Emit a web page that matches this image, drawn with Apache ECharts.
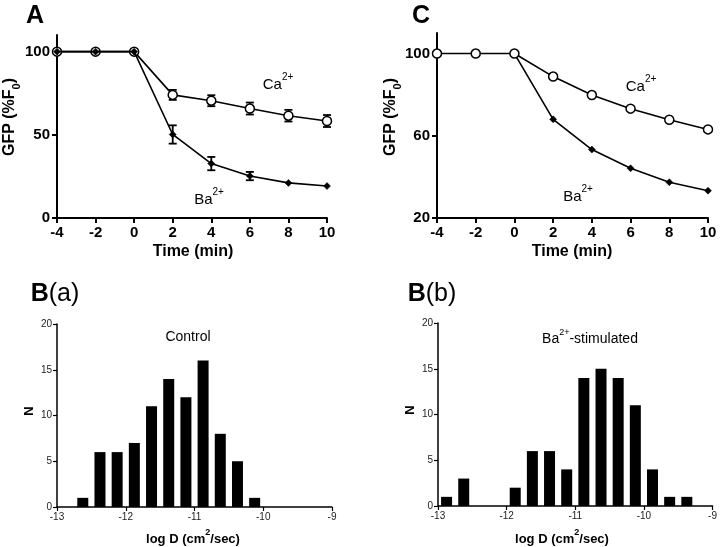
<!DOCTYPE html>
<html><head><meta charset="utf-8">
<script src="https://cdn.jsdelivr.net/npm/echarts@6/dist/echarts.min.js"></script>
<style>html,body{margin:0;padding:0;background:#fff}#c{width:720px;height:547px}</style>
</head><body><div id="c"></div>
<script>
// Panel A
var timeA = [-4, -2, 0, 2, 4, 6, 8, 10];
var caA = [100, 100, 100, 74, 70.5, 65.8, 61.5, 58.3];
var caErrA = [0, 0, 0, 3, 3.3, 3.6, 3.5, 3.6];
var baA = [100, 100, 100, 50.2, 32.7, 25.2, 21.1, 19.2];
var baErrA = [0, 0, 0, 5.5, 4, 2.5, 0, 0];
// Panel C
var timeC = [-4, -2, 0, 2, 4, 6, 8, 10];
var caC = [100, 100, 100, 88.8, 79.8, 73.2, 67.8, 63.1];
var baC = [null, null, 100, 68, 53.3, 44.2, 37.4, 33.3];
// Panel B(a) control histogram
var binsBa = [-12.625, -12.375, -12.125, -11.875, -11.625, -11.375, -11.125, -10.875, -10.625, -10.375, -10.125];
var countsBa = [1, 6, 6, 7, 11, 14, 12, 16, 8, 5, 1];
// Panel B(b) Ba2+-stimulated histogram
var binsBb = [-12.875, -12.625, -11.875, -11.625, -11.375, -11.125, -10.875, -10.625, -10.375, -10.125, -9.875, -9.625, -9.375];
var countsBb = [1, 3, 2, 6, 6, 4, 14, 15, 14, 11, 4, 1, 1];

var FF = 'Liberation Sans, Arial, sans-serif';
function pairs(xs, ys){ return xs.map(function(x,i){ return [x, ys[i]]; }); }
function errData(xs, ys, es){ var out=[]; xs.forEach(function(x,i){ if(es[i]>0) out.push([x, ys[i]-es[i], ys[i]+es[i]]); }); return out; }

var chart = echarts.init(document.getElementById('c'), null, {renderer:'canvas'});

function topAxisX(idx){
  return {gridIndex: idx, type:'value', min:-4, max:10, interval:2,
    axisLine:{onZero:false, lineStyle:{color:'#000', width:2}},
    axisTick:{show:true, length:5, lineStyle:{color:'#000', width:2}},
    axisLabel:{color:'#000', fontSize:15, fontWeight:'bold', fontFamily:FF, margin:7},
    splitLine:{show:false}};
}
function topAxisY(idx, min, interval){
  return {gridIndex: idx, type:'value', min:min, max:110, interval:interval,
    axisLine:{show:true, onZero:false, lineStyle:{color:'#000', width:2}},
    axisTick:{show:true, length:5, lineStyle:{color:'#000', width:2}},
    axisLabel:{color:'#000', fontSize:15, fontWeight:'bold', fontFamily:FF, margin:7, showMaxLabel:false,
      formatter:function(v){ return (v===110)?'':v; }},
    splitLine:{show:false}};
}
function botAxisX(idx){
  return {gridIndex: idx, type:'value', min:-13, max:-9, interval:1,
    axisLine:{onZero:false, lineStyle:{color:'#000', width:1.5}},
    axisTick:{show:true, length:4, lineStyle:{color:'#000', width:1.2}},
    axisLabel:{color:'#222', fontSize:10, fontFamily:FF, margin:5},
    splitLine:{show:false}};
}
function botAxisY(idx){
  return {gridIndex: idx, type:'value', min:0, max:20, interval:5,
    axisLine:{show:true, onZero:false, lineStyle:{color:'#000', width:1.5}},
    axisTick:{show:true, length:4, lineStyle:{color:'#000', width:1.2}},
    axisLabel:{color:'#222', fontSize:10, fontFamily:FF, margin:5},
    splitLine:{show:false}};
}
function errSeries(axisIdx, data){
  return {type:'custom', xAxisIndex:axisIdx, yAxisIndex:axisIdx, z:3,
    data:data,
    renderItem:function(params, api){
      var lo = api.coord([api.value(0), api.value(1)]);
      var hi = api.coord([api.value(0), api.value(2)]);
      var w = 4;
      var st = {stroke:'#000', lineWidth:1.8};
      return {type:'group', children:[
        {type:'line', shape:{x1:lo[0], y1:lo[1], x2:hi[0], y2:hi[1]}, style:st},
        {type:'line', shape:{x1:lo[0]-w, y1:lo[1], x2:lo[0]+w, y2:lo[1]}, style:st},
        {type:'line', shape:{x1:hi[0]-w, y1:hi[1], x2:hi[0]+w, y2:hi[1]}, style:st}
      ]};
    }};
}
function lineSeries(axisIdx, data, open, z){
  return {type:'line', xAxisIndex:axisIdx, yAxisIndex:axisIdx, data:data, z:z,
    symbol: open ? 'circle' : 'diamond', symbolSize: open ? 9 : 7, showSymbol:true,
    lineStyle:{color:'#000', width:1.6},
    itemStyle:{color: open ? '#fff' : '#000', borderColor:'#000', borderWidth: open ? 1.5 : 0.5},
    emphasis:{disabled:true}, animation:false};
}
function barSeries(axisIdx, data){
  return {type:'bar', xAxisIndex:axisIdx, yAxisIndex:axisIdx, data:data, barWidth:11,
    itemStyle:{color:'#000'}, emphasis:{disabled:true}, animation:false};
}
function txt(x, y, text, rich, extra){
  var o = {type:'text', x:x, y:y, style:{text:text, rich:rich||{}, fill:'#000', align:'center', verticalAlign:'middle', fontFamily:FF}};
  if(extra){ for(var k in extra){ if(k==='style'){ for(var s in extra.style) o.style[s]=extra.style[s]; } else o[k]=extra[k]; } }
  return o;
}
var ionRich = {n:{fontSize:15, fontFamily:FF, fill:'#000', lineHeight:20, verticalAlign:'bottom'}, s:{fontSize:10, fontFamily:FF, fill:'#000', verticalAlign:'top', lineHeight:20}};
var gfpRich = {b:{fontSize:16, fontWeight:'bold', fontFamily:FF, fill:'#000', lineHeight:20, verticalAlign:'top'}, sub:{fontSize:11, fontWeight:'bold', fontFamily:FF, fill:'#000', lineHeight:20, verticalAlign:'bottom'}};
var logRich = {b:{fontSize:13, fontWeight:'bold', fontFamily:FF, fill:'#000', lineHeight:18, verticalAlign:'bottom'}, s:{fontSize:9, fontWeight:'bold', fontFamily:FF, fill:'#000', lineHeight:18, verticalAlign:'top'}};
var letterRich = {b:{fontSize:25, fontWeight:'bold', fontFamily:FF, fill:'#000'}, n:{fontSize:25, fontFamily:FF, fill:'#000'}};
var ctrlRich = {n:{fontSize:14, fontFamily:FF, fill:'#000', lineHeight:18, verticalAlign:'bottom'}, s:{fontSize:9, fontFamily:FF, fill:'#000', lineHeight:18, verticalAlign:'top'}};

var option = {
  backgroundColor:'#fff',
  animation:false,
  grid:[
    {left:57, top:35, width:270, height:183},
    {left:437, top:33, width:271, height:185},
    {left:57, top:324, width:275, height:183},
    {left:438, top:323, width:276, height:183}
  ],
  xAxis:[topAxisX(0), topAxisX(1), botAxisX(2), botAxisX(3)],
  yAxis:[topAxisY(0, 0, 50), topAxisY(1, 20, 40), botAxisY(2), botAxisY(3)],
  series:[
    errSeries(0, errData(timeA, caA, caErrA)),
    errSeries(0, errData(timeA, baA, baErrA)),
    lineSeries(0, pairs(timeA, caA), true, 4),
    lineSeries(0, pairs(timeA, baA), false, 5),
    lineSeries(1, pairs(timeC, baC), false, 4),
    lineSeries(1, pairs(timeC, caC), true, 5),
    barSeries(2, pairs(binsBa, countsBa)),
    barSeries(3, pairs(binsBb, countsBb))
  ],
  graphic:[
    txt(35, 16, '{b|A}', letterRich),
    txt(421, 16, '{b|C}', letterRich),
    txt(55, 294, '{b|B}{n|(a)}', letterRich),
    txt(432, 294, '{b|B}{n|(b)}', letterRich),
    txt(278, 82, '{n|Ca}{s|2+}', ionRich),
    txt(209, 197, '{n|Ba}{s|2+}', ionRich),
    txt(641, 84, '{n|Ca}{s|2+}', ionRich),
    txt(578, 194, '{n|Ba}{s|2+}', ionRich),
    txt(12, 117, '{b|GFP (%F}{sub|0}{b|)}', gfpRich, {rotation:Math.PI/2}),
    txt(393, 117, '{b|GFP (%F}{sub|0}{b|)}', gfpRich, {rotation:Math.PI/2}),
    txt(193, 252, 'Time (min)', null, {style:{fontSize:16, fontWeight:'bold'}}),
    txt(572, 252, 'Time (min)', null, {style:{fontSize:16, fontWeight:'bold'}}),
    txt(188, 337, 'Control', null, {style:{fontSize:14}}),
    txt(590, 337, '{n|Ba}{s|2+}{n|-stimulated}', ctrlRich),
    txt(29, 411, 'N', null, {rotation:Math.PI/2, style:{fontSize:13, fontWeight:'bold'}}),
    txt(410, 410, 'N', null, {rotation:Math.PI/2, style:{fontSize:13, fontWeight:'bold'}}),
    txt(193, 537, '{b|log D (cm}{s|2}{b|/sec)}', logRich),
    txt(562, 537, '{b|log D (cm}{s|2}{b|/sec)}', logRich)
  ]
};
chart.setOption(option);
</script></body></html>
